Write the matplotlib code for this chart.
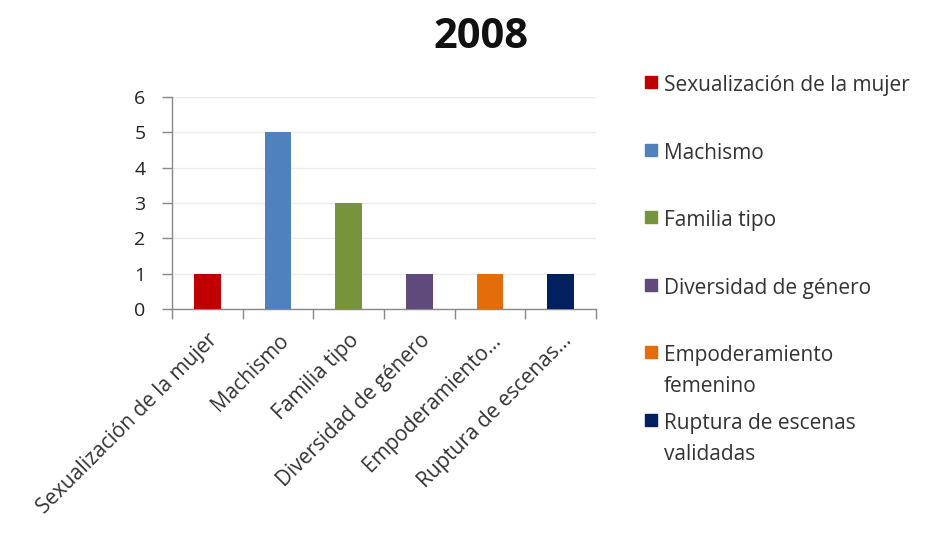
import matplotlib.pyplot as plt
import matplotlib.patches as mpatches
import numpy as np

plt.rcParams['font.family'] = ['Open Sans', 'DejaVu Sans']

categories = ['Sexualización de la mujer', 'Machismo', 'Familia tipo',
              'Diversidad de género', 'Empoderamiento femenino',
              'Ruptura de escenas validadas']
tick_labels = ['Sexualización de la mujer', 'Machismo', 'Familia tipo',
               'Diversidad de género', 'Empoderamiento...', 'Ruptura de escenas...']
legend_labels = ['Sexualización de la mujer', 'Machismo', 'Familia tipo',
                 'Diversidad de género', 'Empoderamiento\nfemenino',
                 'Ruptura de escenas\nvalidadas']
values = [1, 5, 3, 1, 1, 1]
colors = ['#c00000', '#4f81bd', '#77933c', '#604a7b', '#e46c0a', '#002060']

W, H = 940, 536
fig = plt.figure(figsize=(W / 100, H / 100), dpi=100)
ax = fig.add_axes([172 / W, 1 - 309 / H, 424 / W, 212 / H])

x = np.arange(len(categories))
bars = ax.bar(x, values, width=0.38, color=colors, zorder=3)

ax.set_xlim(-0.5, len(categories) - 0.5)
ax.set_ylim(0, 6)
ax.set_yticks(range(7))
ax.yaxis.grid(True, color='#ececec', lw=1, zorder=0)

# x ticks at category boundaries, labels at centers
ax.set_xticks(np.arange(-0.5, len(categories)))
ax.set_xticklabels([])
ax.set_xticks(x, minor=True)
ax.set_xticklabels(tick_labels, minor=True, rotation=45, ha='right',
                   rotation_mode='anchor', fontsize=15, color='#333333')
ax.tick_params(axis='x', which='minor', length=0, pad=15)
ax.tick_params(axis='x', which='major', length=7, color='#888888', width=1)
ax.tick_params(axis='y', length=7, color='#888888', width=1, labelsize=14,
               labelcolor='#222222', pad=12)

for side in ['top', 'right']:
    ax.spines[side].set_visible(False)
for side in ['left', 'bottom']:
    ax.spines[side].set_color('#888888')
    ax.spines[side].set_linewidth(1)

fig.text(481 / W, 1 - 37 / H, '2008', ha='center', va='center',
         fontsize=30, fontweight='bold', color='#111111')

# legend drawn by hand so each entry keeps the same vertical step
y0, step = 82, 67.6
for i, (lab, c) in enumerate(zip(legend_labels, colors)):
    yc = y0 + i * step
    fig.patches.append(mpatches.Rectangle((645 / W, 1 - (yc + 6) / H), 12 / W, 12 / H,
                                          transform=fig.transFigure, color=c))
    fig.text(664 / W, 1 - (yc - 7) / H, lab, ha='left', va='top', fontsize=15,
             color='#333333', linespacing=1.6)

fig.savefig('out.png', dpi=100)
